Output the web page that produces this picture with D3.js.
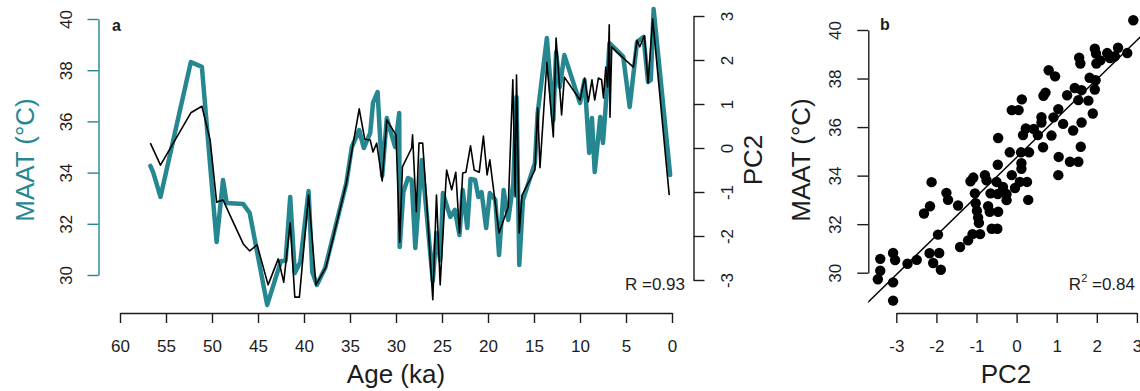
<!DOCTYPE html>
<html>
<head>
<meta charset="utf-8">
<script src="https://cdn.jsdelivr.net/npm/d3@7"></script>
<style>
  html, body { margin: 0; padding: 0; background: #fff; }
  svg { display: block; font-family: "Liberation Sans", Arial, Helvetica, sans-serif; }
</style>
</head>
<body>
<svg id="chart" width="1140" height="391"></svg>
<script>
// panel a: MAAT (teal, left axis) and PC2 (black, right axis) through time
const maatAge = [56.7, 56.4, 55.6, 52.3, 51.1, 49.5, 48.8, 48.4, 46.6, 45.9, 44.0, 42.5, 42.0, 41.5, 41.0, 40.4,
  39.5, 39.1, 38.6, 37.7, 35.4, 34.8, 34.0, 33.5, 32.8, 32.5, 32.0, 31.5, 31.0, 30.1, 29.65, 29.6, 29.2, 28.7,
  28.3, 27.9, 27.2, 26.0, 25.6, 25.2, 24.9, 24.1, 23.6, 23.1, 22.75, 22.25, 21.9, 21.4, 21.05, 20.7, 20.2, 19.8,
  19.2, 18.8, 18.3, 17.8, 17.25, 16.9, 16.6, 16.2, 14.9, 14.6, 13.6, 12.9, 12.6, 12.2, 11.7, 10.0, 9.5, 9.0, 8.7,
  8.4, 7.8, 7.5, 7.1, 6.8, 5.8, 5.3, 4.6, 3.8, 3.1, 2.6, 2.3, 2.0, 0.2];
const maatVal = [34.26, 34.02, 33.05, 38.32, 38.13, 31.29, 33.71, 32.81, 32.77, 32.42, 28.83, 30.55, 30.55, 33.05,
  30.08, 30.51, 33.28, 30.12, 29.61, 30.27, 33.59, 35.0, 35.66, 34.96, 35.55, 36.72, 37.15, 33.87, 36.13, 35.0,
  36.33, 31.09, 33.24, 33.79, 33.71, 31.05, 34.49, 29.77, 31.64, 30.59, 33.2, 32.27, 32.54, 31.56, 33.32, 31.84,
  33.75, 33.71, 33.05, 33.24, 31.84, 33.2, 32.93, 30.78, 33.32, 32.15, 33.59, 36.95, 30.39, 32.93, 34.38, 36.33,
  39.26, 36.05, 38.71, 37.34, 38.59, 36.72, 37.62, 34.77, 36.13, 34.02, 36.17, 35.16, 37.11, 39.06, 38.71, 38.52,
  36.56, 39.1, 39.3, 37.54, 37.62, 40.39, 33.91];

const pc2Age = [56.7, 55.6, 52.3, 51.1, 50.2, 49.5, 48.8, 48.0, 46.6, 45.9, 45.1, 43.9, 42.8, 42.2, 41.5, 41.0,
  40.5, 39.5, 38.7, 37.6, 35.4, 34.0, 33.4, 32.8, 32.5, 32.1, 31.5, 31.0, 30.0, 29.6, 29.3, 28.3, 28.2, 27.8, 27.5,
  27.1, 26.7, 26.0, 25.6, 25.2, 24.5, 23.95, 23.5, 23.1, 22.75, 22.4, 21.9, 21.5, 20.95, 20.5, 20.1, 19.8, 18.8,
  17.8, 17.3, 17.05, 16.9, 16.6, 16.3, 14.9, 14.6, 14.35, 13.6, 12.9, 12.6, 12.0, 11.7, 10.0, 9.5, 9.1, 8.7, 8.4,
  8.0, 7.65, 7.45, 7.2, 7.0, 6.82, 6.74, 6.55, 6.0, 4.2, 3.8, 3.5, 3.0, 2.6, 2.1, 0.3];
const pc2Val = [0.11, -0.39, 0.8, 0.95, 0.18, -1.23, -1.18, -1.55, -2.18, -2.34, -2.2, -3.11, -2.52, -3.05, -1.7,
  -3.39, -3.39, -1.07, -3.11, -2.7, -0.8, 0.89, 0.2, 0.18, -0.09, 0.11, -0.75, 0.64, 0.3, -2.14, -0.43, 0.0, 0.3,
  -1.45, 0.11, 0.11, -1.11, -3.45, -1.07, -3.11, -0.5, -0.95, -0.55, -1.93, -0.57, -0.55, 0.05, -0.5, -0.55, 0.27,
  -0.61, -0.27, -1.93, -1.34, 1.55, -1.11, 1.66, -1.93, -1.07, -0.5, 0.91, -0.45, 1.95, 0.25, 2.5, 0.75, 1.61, 1.09,
  1.59, 1.05, 1.55, 1.09, 1.59, 1.55, 1.14, 1.84, 1.39, 2.8, 0.7, 2.3, 2.18, 1.84, 2.45, 2.3, 2.55, 1.48, 2.93, -1.07];

// panel b: MAAT against PC2
const scatterPc2 = [2.91, 1.95, 1.98, 2.26, 2.53, 2.76, 2.09, 1.99, 2.33, 2.45, 1.56, 1.59, 0.8, 0.96, 1.82, 1.97,
  1.95, 1.45, 1.62, 1.26, 1.54, 1.79, 0.67, 0.72, 0.13, -0.12, 0.05, 1.04, 1.9, 0.62, 0.62, 0.92, 1.16, 1.62, 0.23,
  0.43, 0.16, 0.53, -0.46, 0.87, 1.41, 1.6, 0.66, -0.17, 0.11, 0.31, 0.12, 0.12, 1.05, 1.33, 1.54, -0.47, 1.04,
  -0.12, 0.08, 0.26, -0.5, -0.79, -0.75, -1.08, -1.15, -2.12, 0.29, -0.65, -0.47, -0.25, -0.25, -1.75, -1.71,
  -1.04, -1.46, -2.16, -2.31, -1.02, -0.99, -0.96, -0.94, -0.71, -0.67, -0.46, -1.96, -1.21, -1.1, -0.91, -0.62,
  -0.48, -1.41, -2.17, -1.93, -3.4, -3.08, -3.03, -2.72, -2.49, -2.08, -1.89, -3.4, -3.46, -3.08, -3.08, -0.34, -0.04];
const scatterMaat = [40.4, 39.23, 39.03, 39.05, 39.27, 39.05, 38.75, 38.62, 38.84, 38.92, 38.86, 38.62, 38.34, 38.09,
  38.03, 37.93, 37.55, 37.61, 37.52, 37.31, 37.11, 37.09, 37.29, 37.42, 37.14, 36.7, 36.7, 36.74, 36.56, 36.41,
  36.19, 36.4, 36.13, 36.19, 35.94, 35.92, 35.67, 35.67, 35.55, 35.65, 35.86, 35.19, 35.17, 34.96, 34.96, 34.96,
  34.51, 34.28, 34.77, 34.57, 34.57, 34.45, 34.02, 34.02, 33.74, 33.74, 33.74, 34.02, 33.81, 33.92, 33.77, 33.73,
  33.0, 33.27, 33.24, 33.24, 32.99, 33.29, 33.0, 33.27, 32.77, 32.74, 32.44, 32.86, 32.55, 32.27, 32.05, 32.74,
  32.51, 32.51, 31.57, 31.33, 31.59, 31.59, 31.81, 31.81, 31.06, 30.8, 30.81, 30.57, 30.81, 30.52, 30.37, 30.53,
  30.4, 30.12, 30.08, 29.73, 29.6, 28.85, 33.53, 33.49];
const fitIntercept = 34.75;
const fitSlope = 1.61;

const ageTicks = [60, 55, 50, 45, 40, 35, 30, 25, 20, 15, 10, 5, 0];
const maatTicks = [30, 32, 34, 36, 38, 40];
const pc2Ticks = [-3, -2, -1, 0, 1, 2, 3];

const teal = "#268791";
const ink = "#1c1c1c";
const plain = d => String(d);   // R style labels: plain hyphen, no decimals

const svg = d3.select("#chart");

// scales
const xA = d3.scaleLinear().domain([60, 0]).range([120, 672]);
const yMaat = d3.scaleLinear().domain([30, 40]).range([275, 19]);
const yPc2 = d3.scaleLinear().domain([-3, 3]).range([280, 16]);
const xB = d3.scaleLinear().domain([-3, 3]).range([896.3, 1136.9]);
const yB = d3.scaleLinear().domain([30, 40]).range([272.7, 30]);

function styleAxis(g, color) {
  g.select(".domain").attr("stroke", color).attr("stroke-width", 1.4);
  g.selectAll(".tick line").attr("stroke", color).attr("stroke-width", 1.4);
  g.selectAll(".tick text").attr("fill", ink).attr("font-size", 17)
    .attr("font-family", "Liberation Sans, Arial, sans-serif");
}

// vertical axis with labels turned like R does
function vAxis(axis, x, color, offset) {
  const g = svg.append("g").attr("transform", `translate(${x},0)`).call(axis);
  styleAxis(g, color);
  g.selectAll(".tick text")
    .attr("x", 0).attr("dy", null).attr("y", offset)
    .attr("text-anchor", "middle")
    .attr("transform", "rotate(-90)");
  return g;
}

function hAxis(axis, y) {
  const g = svg.append("g").attr("transform", `translate(0,${y})`).call(axis);
  styleAxis(g, ink);
  g.selectAll(".tick text").attr("y", 38.5).attr("dy", null);
  return g;
}

// ---- panel a ----
const lineMaat = d3.line().x((d, i) => xA(maatAge[i])).y(d => yMaat(d));
const linePc2 = d3.line().x((d, i) => xA(pc2Age[i])).y(d => yPc2(d));

svg.append("path").datum(maatVal)
  .attr("d", lineMaat)
  .attr("fill", "none").attr("stroke", teal).attr("stroke-width", 4.5)
  .attr("stroke-linejoin", "round").attr("stroke-linecap", "round");

svg.append("path").datum(pc2Val)
  .attr("d", linePc2)
  .attr("fill", "none").attr("stroke", "#000").attr("stroke-width", 1.6)
  .attr("stroke-linejoin", "round");

vAxis(d3.axisLeft(yMaat).tickValues(maatTicks).tickFormat(plain).tickSize(11).tickSizeOuter(0), 98.5, teal, -27);
vAxis(d3.axisRight(yPc2).tickValues(pc2Ticks).tickFormat(plain).tickSize(11).tickSizeOuter(0), 693.5, ink, 39.5);
hAxis(d3.axisBottom(xA).tickValues(ageTicks).tickFormat(plain).tickSize(10).tickSizeOuter(0), 313);

svg.append("text").attr("x", 112).attr("y", 31)
  .attr("font-size", 16).attr("font-weight", "bold").attr("fill", ink).text("a");

svg.append("text")
  .attr("transform", "translate(34,160) rotate(-90)")
  .attr("text-anchor", "middle").attr("font-size", 26).attr("fill", teal)
  .text("MAAT (°C)");

svg.append("text")
  .attr("transform", "translate(762,160) rotate(-90)")
  .attr("text-anchor", "middle").attr("font-size", 26).attr("fill", ink)
  .text("PC2");

svg.append("text").attr("x", 396).attr("y", 383)
  .attr("text-anchor", "middle").attr("font-size", 26).attr("fill", ink)
  .text("Age (ka)");

svg.append("text").attr("x", 685).attr("y", 290)
  .attr("text-anchor", "end").attr("font-size", 17).attr("fill", ink)
  .text("R =0.93");

// ---- panel b ----
svg.append("clipPath").attr("id", "clipB")
  .append("rect").attr("x", 868.3).attr("y", 0).attr("width", 272).attr("height", 313);

const fitX = [-4, 3.5];
svg.append("path")
  .datum(fitX)
  .attr("clip-path", "url(#clipB)")
  .attr("d", d3.line().x(d => xB(d)).y(d => yB(fitIntercept + fitSlope * d)))
  .attr("stroke", "#000").attr("stroke-width", 1.5).attr("fill", "none");

svg.append("g").selectAll("circle")
  .data(scatterPc2)
  .join("circle")
  .attr("cx", d => xB(d))
  .attr("cy", (d, i) => yB(scatterMaat[i]))
  .attr("r", 5.2)
  .attr("fill", "#000");

vAxis(d3.axisLeft(yB).tickValues(maatTicks).tickFormat(plain).tickSize(11).tickSizeOuter(0), 868.3, ink, -27);
hAxis(d3.axisBottom(xB).tickValues(pc2Ticks).tickFormat(plain).tickSize(10).tickSizeOuter(0), 313);

svg.append("text").attr("x", 880).attr("y", 30)
  .attr("font-size", 16).attr("font-weight", "bold").attr("fill", ink).text("b");

svg.append("text")
  .attr("transform", "translate(810,160) rotate(-90)")
  .attr("text-anchor", "middle").attr("font-size", 26).attr("fill", ink)
  .text("MAAT (°C)");

svg.append("text").attr("x", 1006).attr("y", 383)
  .attr("text-anchor", "middle").attr("font-size", 26).attr("fill", ink)
  .text("PC2");

const r2 = svg.append("text").attr("x", 1135).attr("y", 290)
  .attr("text-anchor", "end").attr("font-size", 17).attr("fill", ink);
r2.append("tspan").text("R");
r2.append("tspan").attr("font-size", 11).attr("dy", -8).text("2");
r2.append("tspan").attr("dy", 8).text(" =0.84");
</script>
</body>
</html>
